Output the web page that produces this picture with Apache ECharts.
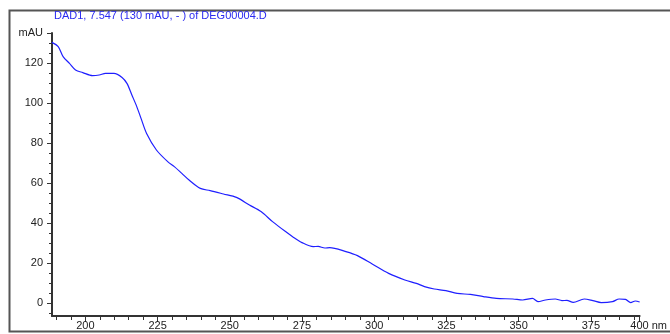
<!DOCTYPE html>
<html>
<head>
<meta charset="utf-8">
<script src="https://cdn.jsdelivr.net/npm/echarts@6/dist/echarts.min.js"></script>
<style>
  html, body { margin: 0; padding: 0; background: #fff; }
  #chart { width: 670px; height: 334px; }
</style>
</head>
<body>
<div id="chart"></div>
<script>
// UV spectrum, DAD1 at 7.547 min
const titleText = 'DAD1, 7.547 (130 mAU, - ) of DEG00004.D';

const wavelength = [
  188.4, 190.6, 192.3, 194.5, 196.6, 199.1, 202.5, 204.8, 207.0, 209.9,
  212.7, 214.4, 216.1, 217.8, 219.4, 221.2, 224.6, 228.5, 230.8, 233.4,
  235.9, 239.8, 243.2, 247.8, 252.3, 256.8, 260.8, 264.8, 269.3, 272.1,
  275.0, 278.9, 280.6, 282.9, 284.6, 290.2, 294.2, 299.3, 305.0, 310.6,
  314.6, 317.4, 320.8, 324.8, 328.7, 333.3, 337.8, 342.3, 348.0, 351.4,
  354.8, 356.7, 359.3, 362.7, 365.0, 366.7, 368.9, 372.7, 375.7, 378.6,
  382.5, 384.8, 387.0, 388.8, 390.4, 391.9
];
const absorbance = [
  130.3, 128.2, 123.2, 119.8, 116.5, 115.2, 113.7, 114.0, 114.8, 114.8,
  112.8, 109.8, 104.0, 98.2, 91.8, 84.8, 76.5, 70.7, 68.2, 64.8,
  61.5, 57.3, 56.2, 54.5, 52.8, 49.0, 45.7, 40.7, 35.7, 32.8,
  30.2, 28.2, 28.3, 27.5, 27.7, 25.7, 23.7, 19.5, 14.8, 11.5,
  9.8, 8.2, 7.0, 6.2, 4.8, 4.3, 3.2, 2.3, 2.0, 1.5,
  2.3, 0.7, 1.5, 2.0, 1.2, 1.3, 0.3, 2.0, 1.2, 0.2,
  0.7, 2.0, 1.8, 0.2, 1.0, 0.5
];

// axis ranges and tick positions
const xMin = 188.45, xMax = 391.9;
const yMin = -6.5, yMax = 135;
const xLabelValues = [200, 225, 250, 275, 300, 325, 350, 375];
const xEndLabel = '400 nm';
const yLabelValues = [0, 20, 40, 60, 80, 100, 120];
const yUnitLabel = 'mAU';
const xMinorStep = 5;
const yMinorStep = 5;

const xMinor = [];
for (let v = 190; v <= xMax; v += xMinorStep) xMinor.push(v);
const yMinor = [];
for (let v = -5; v <= 130; v += yMinorStep) yMinor.push(v);

const axisColor = '#333';
const textColor = '#222';
const font = 'Liberation Sans, Arial, sans-serif';

const chart = echarts.init(document.getElementById('chart'), null, { renderer: 'canvas' });

const baseX = {
  type: 'value', min: xMin, max: xMax, gridIndex: 0, position: 'bottom', offset: 0,
  splitLine: { show: false }
};
const baseY = {
  type: 'value', min: yMin, max: yMax, gridIndex: 0, position: 'left', offset: 0,
  splitLine: { show: false }
};

chart.setOption({
  animation: false,
  backgroundColor: '#fff',
  title: {
    text: titleText,
    left: 54, top: 10, padding: 0,
    textStyle: { color: '#2a2af0', fontSize: 11, fontWeight: 'normal', fontFamily: font }
  },
  graphic: [{
    type: 'rect',
    shape: { x: 9.5, y: 10.5, width: 700, height: 321 },
    style: { fill: 'none', stroke: '#555', lineWidth: 2 },
    z: 0
  }],
  grid: { left: 52, right: 19, top: 33, bottom: 18, containLabel: false },
  xAxis: [
    Object.assign({}, baseX, {
      axisLine: { show: true, onZero: false, lineStyle: { color: axisColor, width: 2 } },
      axisTick: { show: true, inside: false, length: 6, customValues: xLabelValues.concat([xMax]),
        lineStyle: { color: axisColor, width: 1 } },
      axisLabel: {
        show: true, margin: 4, color: textColor, fontSize: 11, fontFamily: font,
        customValues: xLabelValues.concat([xMax]),
        showMaxLabel: true, hideOverlap: false,
        formatter: function (v) {
          if (Math.abs(v - xMax) < 1e-6) return '{pad|}' + xEndLabel;
          return String(v);
        },
        rich: { pad: { width: 18 } }
      }
    }),
    Object.assign({}, baseX, {
      axisLine: { show: false, onZero: false },
      axisTick: { show: true, inside: false, length: 4, customValues: xMinor,
        lineStyle: { color: axisColor, width: 1 } },
      axisLabel: { show: false }
    })
  ],
  yAxis: [
    Object.assign({}, baseY, {
      axisLine: { show: true, onZero: false, lineStyle: { color: axisColor, width: 2 } },
      axisTick: { show: true, inside: false, length: 5, customValues: yLabelValues.concat([yMax]),
        lineStyle: { color: axisColor, width: 1 } },
      axisLabel: {
        show: true, margin: 9, color: textColor, fontSize: 11, fontFamily: font,
        customValues: yLabelValues.concat([yMax]),
        showMaxLabel: true,
        formatter: function (v) {
          if (Math.abs(v - yMax) < 1e-6) return yUnitLabel;
          return String(v);
        }
      }
    }),
    Object.assign({}, baseY, {
      axisLine: { show: false, onZero: false },
      axisTick: { show: true, inside: false, length: 3, customValues: yMinor,
        lineStyle: { color: axisColor, width: 1 } },
      axisLabel: { show: false }
    })
  ],
  series: [{
    type: 'line',
    xAxisIndex: 0, yAxisIndex: 0,
    data: wavelength.map((w, i) => [w, absorbance[i]]),
    showSymbol: false,
    smooth: 0.3,
    lineStyle: { color: '#1f1fff', width: 1.2 },
    clip: false
  }]
});
</script>
</body>
</html>
